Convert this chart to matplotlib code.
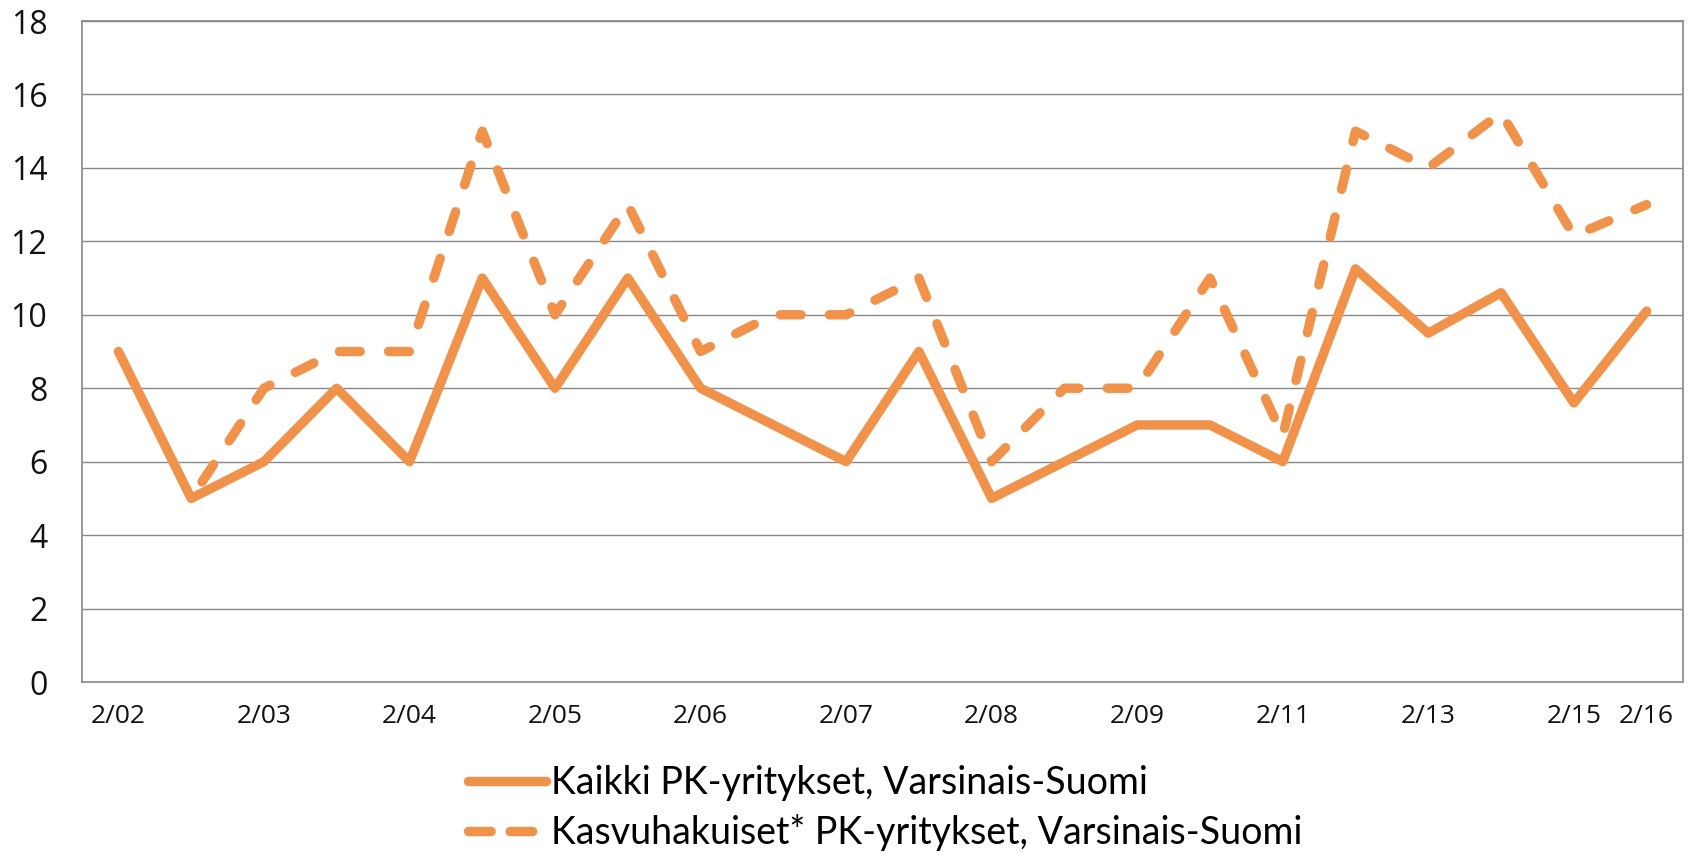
import matplotlib
matplotlib.use("Agg")
import matplotlib.pyplot as plt
from matplotlib.lines import Line2D

# ---- data ----
x_labels = ["2/02", "", "2/03", "", "2/04", "", "2/05", "", "2/06", "", "2/07", "",
            "2/08", "", "2/09", "", "2/11", "", "2/13", "", "2/15", "2/16"]
kaikki = [9, 5, 6, 8, 6, 11, 8, 11, 8, 7, 6, 9,
          5, 6, 7, 7, 6, 11.25, 9.5, 10.6, 7.6, 10.1]
kasvu = [None, 5, 8, 9, 9, 15, 10, 13, 9, 10, 10, 11,
         6, 8, 8, 11, 6.7, 15, 14, 15.5, 12.15, 13]
series_names = ["Kaikki PK-yritykset, Varsinais-Suomi",
                "Kasvuhakuiset* PK-yritykset, Varsinais-Suomi"]
y_ticks = [0, 2, 4, 6, 8, 10, 12, 14, 16, 18]

ORANGE = "#F1924B"
GRID = "#888888"

fig = plt.figure(figsize=(16.92, 8.55), dpi=100)
ax = fig.add_axes([82 / 1692, 1 - 682 / 855, (1683 - 82) / 1692, (682 - 21) / 855])

xs = list(range(len(x_labels)))
ax.plot(xs, kaikki, color=ORANGE, lw=6.8, solid_capstyle="round",
        solid_joinstyle="round", zorder=3)
kx = [x for x, v in zip(xs, kasvu) if v is not None]
kv = [v for v in kasvu if v is not None]
ax.plot(kx, kv, color=ORANGE, lw=6.8, linestyle=(3.1, (2.2, 3.0)),
        dash_capstyle="round", dash_joinstyle="round", zorder=4)

ax.set_xlim(-0.5, len(x_labels) - 0.5)
ax.set_ylim(0, 18)
ax.set_yticks(y_ticks)
ax.set_yticklabels([str(t) for t in y_ticks], family=["Open Sans", "DejaVu Sans"], fontsize=23)
ax.set_xticks(xs)
ax.set_xticklabels(x_labels, family=["Open Sans", "DejaVu Sans"], fontsize=19)
ax.tick_params(axis="y", length=0, pad=25, colors="#111111")
ax.tick_params(axis="x", length=0, pad=16, colors="#111111")
ax.grid(axis="y", color=GRID, lw=1.0, zorder=1)
ax.set_axisbelow(True)
for s in ax.spines.values():
    s.set_color(GRID)
    s.set_linewidth(1.2)

handles = [Line2D([], [], color=ORANGE, lw=6.8, solid_capstyle="round"),
           Line2D([], [], color=ORANGE, lw=6.8, dashes=(2.4, 2.0), dash_capstyle="round")]
fig.legend(handles, series_names, loc="center",
           bbox_to_anchor=(885 / 1692, 1 - 808 / 855),
           frameon=False, handlelength=2.1, handletextpad=0.12, labelspacing=0.33,
           prop={"family": ["Lato", "DejaVu Sans"], "size": 27})

fig.savefig("out.png", dpi=100)
